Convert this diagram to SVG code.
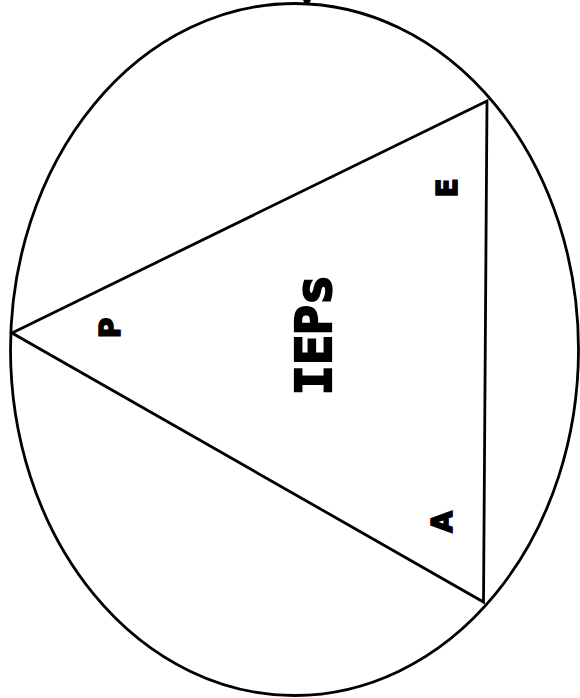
<svg xmlns="http://www.w3.org/2000/svg" width="580" height="698" viewBox="0 0 580 698">
<style>
.ln{fill:none;stroke:#000;stroke-width:2.8;stroke-linejoin:miter}
.lbl{font-family:"DejaVu Sans","Liberation Sans",sans-serif;font-weight:bold;font-size:28px;fill:#000;stroke:#000;stroke-width:1.6;text-anchor:middle}
.big{font-family:"DejaVu Sans Mono","Liberation Mono",monospace;font-weight:bold;font-size:50px;fill:#000;stroke:#000;stroke-width:2.2;text-anchor:middle}
</style>
<rect width="580" height="698" fill="#fff"/>
<g id="circle">
<ellipse class="ln" cx="294.5" cy="349.5" rx="284" ry="346"/>
<path d="M303 0 L311 0 L309 4 L305 4 Z" fill="#000"/>
</g>
<g id="triangle">
<polygon class="ln" points="12,333 487,101 483.5,602"/>
</g>
<g id="label-IEPs">
<text class="big" transform="translate(331,335) rotate(-90)">IEPs</text>
</g>
<g id="label-P">
<text class="lbl" transform="translate(120,328) rotate(-90)">P</text>
</g>
<g id="label-E">
<text class="lbl" transform="translate(457,188) rotate(-90)">E</text>
</g>
<g id="label-A">
<text class="lbl" transform="translate(452,522) rotate(-90)">A</text>
</g>
</svg>
